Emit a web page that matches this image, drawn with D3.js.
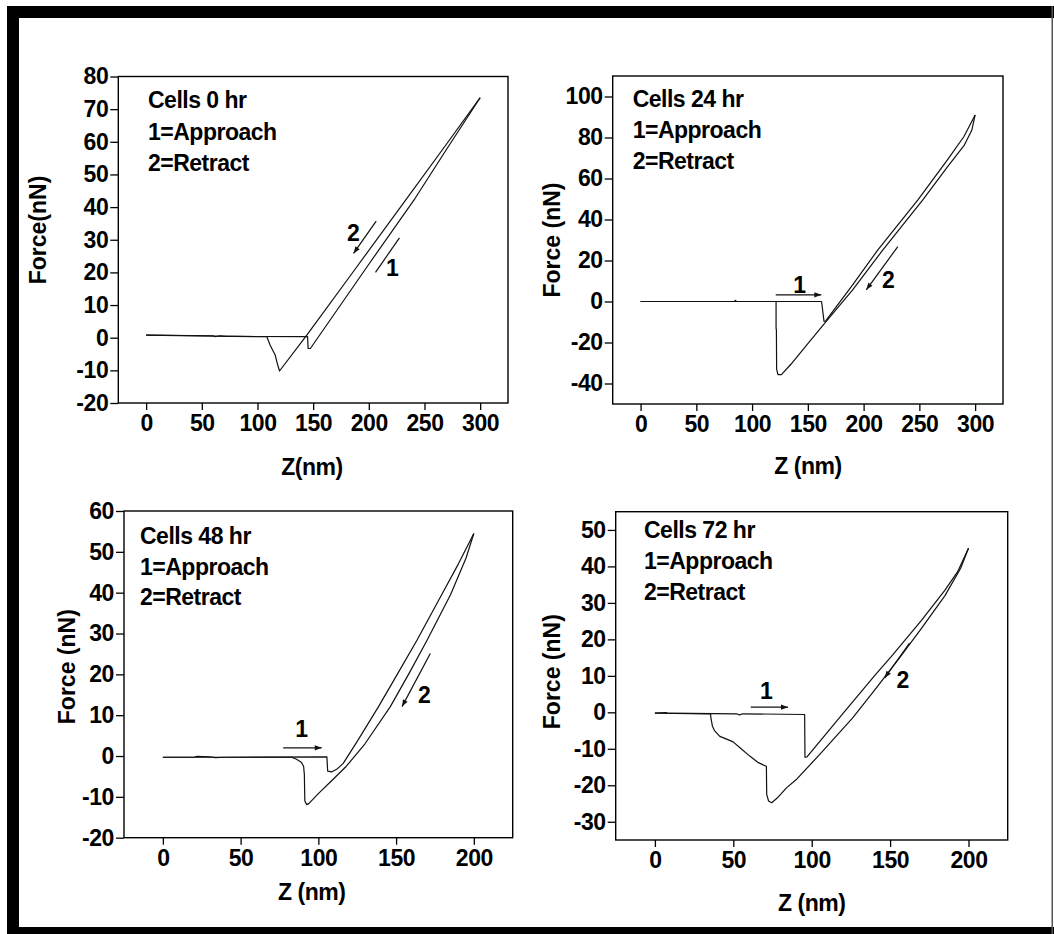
<!DOCTYPE html>
<html><head><meta charset="utf-8">
<script src="https://cdn.jsdelivr.net/npm/d3@7"></script>
<style>
body{margin:0;background:#fff}
svg{display:block}
text{font-family:"Liberation Sans",Arial,sans-serif;font-weight:bold;fill:#000}
</style>
</head><body>
<svg id="c" width="1054" height="934"></svg>
<script>
// ---------------- DATA ----------------
const titles = ["Cells 0 hr", "Cells 24 hr", "Cells 48 hr", "Cells 72 hr"];
const legendLines = ["1=Approach", "2=Retract"];
const yTitles = ["Force(nN)", "Force (nN)", "Force (nN)", "Force (nN)"];
const xTitles = ["Z(nm)", "Z (nm)", "Z (nm)", "Z (nm)"];

const xTicks300 = [0, 50, 100, 150, 200, 250, 300];
const xTicks200 = [0, 50, 100, 150, 200];
const yTicks0 = [-20, -10, 0, 10, 20, 30, 40, 50, 60, 70, 80];
const yTicks24 = [-40, -20, 0, 20, 40, 60, 80, 100];
const yTicks48 = [-20, -10, 0, 10, 20, 30, 40, 50, 60];
const yTicks72 = [-30, -20, -10, 0, 10, 20, 30, 40, 50];

// Z (nm), Force (nN)
const approach0 = [[0,0.8],[60,0.6],[62,0.3],[66,0.6],[72,0.4],[80,0.4],[141,0.3],[145,0.3],[145.5,-3.3],[147.5,-3.3],[200,22.5],[241.6,42.7],[270,57.8],[300,73.5]];
const retract0 = [[300,73.5],[270,59.4],[234.2,42.7],[186,20.2],[144.3,0.8],[119.8,-10.2],[117.4,-7.4],[115.9,-5.3],[111.4,-2.3],[108.4,0.3],[60,0.5],[0,0.8]];

const approach24 = [[0,0],[84,0],[85,0.5],[86,0],[162.3,0],[164.5,-9.7],[166,-9.5],[190,8],[212.8,25.2],[248.7,49.6],[275,69],[290,80.5],[300,91]];
const retract24 = [[300,91],[297,83.5],[290,76],[275,65.5],[253.1,49.6],[217.3,25.2],[190,5.5],[166.5,-9.7],[150,-20.5],[135,-30.5],[126.3,-35.7],[123.2,-35.7],[122,-33],[121.8,-14],[121.5,-13],[121.5,0],[0,0]];

const approach48 = [[0,-0.3],[20,-0.3],[22,-0.1],[30,-0.2],[34,-0.4],[40,-0.3],[105.5,-0.2],[106,-3.7],[108.5,-3.9],[112,-3.2],[116,-1.8],[125,3.6],[138.7,12.1],[150,19.5],[163.5,28.4],[180,40],[190,47],[200,54.5]];
const retract48 = [[200,54.5],[195,48.5],[185,39.5],[170,28.4],[158,20],[146.3,12.1],[130,3],[118,-2.5],[110,-5.5],[100,-9.2],[94,-11.6],[92.5,-11.9],[91.3,-11],[91,-4.5],[90.5,-2.5],[89,-1.5],[86,-0.8],[82.8,-0.3],[0,-0.3]];

const approach72 = [[0,-0.2],[7,-0.1],[8,-0.2],[52,-0.4],[54,-0.7],[56,-0.4],[95.5,-0.6],[95.7,-12.3],[97,-12.2],[120,-0.3],[140,10],[151.8,15.8],[170,25.2],[185,33.5],[193,38.5],[200,45]];
const retract72 = [[200,45],[195,39.5],[185,32],[170,23],[156,14.9],[140,6],[126,-1.6],[105,-11.6],[90,-18.5],[83.9,-20.7],[78,-23.5],[74.5,-24.8],[72.5,-24.3],[71.3,-22.5],[71.1,-14.8],[66,-13.8],[60.5,-12],[55,-10],[49.9,-8.1],[45,-7.2],[41.4,-6.6],[38,-5],[36.7,-3.8],[35.7,-1.5],[35.5,-0.4],[0,-0.2]];

// annotation arrows [from, to, head] and number labels [text, x, F]
const arrows0 = [[[206.6,35.7],[186.3,25.8],true],[[227.5,30.6],[206,20],false]];
const arrows24 = [[[121.2,3.25],[162.1,3.25],true],[[230.7,26.8],[202.4,5.7],true]];
const arrows48 = [[[77.4,2.0],[102.2,2.0],true],[[172,25.1],[153.8,12.1],true]];
const arrows72 = [[[61.1,1.4],[84.9,1.4],true],[[162.4,19],[146.5,9.4],true]];
const numLabels0 = [["2",186.2,29.5],["1",221.2,18.8]];
const numLabels24 = [["1",142.7,4.1],["2",222.3,6.5]];
const numLabels48 = [["1",89.3,4.7],["2",168.2,12.9]];
const numLabels72 = [["1",71.1,3.75],["2",158.2,6.8]];

// ---------------- LAYOUT ----------------
const panels = [
  {L:118.3,T:76.5,R:508,B:403,xd:[-25,325],yd:[-20,80],xt:xTicks300,yt:yTicks0,ap:approach0,re:retract0,ar:arrows0,nl:numLabels0,
   ytx:38,yty:230,xtx:312,xty:475,ann:[148,108,31.5]},
  {L:612.7,T:76,R:1003,B:404,xd:[-25,325],yd:[-50,110],xt:xTicks300,yt:yTicks24,ap:approach24,re:retract24,ar:arrows24,nl:numLabels24,
   ytx:551.7,yty:240,xtx:808,xty:473.5,ann:[632.7,106.7,31]},
  {L:124,T:511,R:512.7,B:837.7,xd:[-25,225],yd:[-20,60],xt:xTicks200,yt:yTicks48,ap:approach48,re:retract48,ar:arrows48,nl:numLabels48,
   ytx:66.7,yty:666.7,xtx:311.7,xty:900,ann:[140,544,30.5]},
  {L:615.7,T:511.7,R:1007.7,B:840,xd:[-25,225],yd:[-35,55],xt:xTicks200,yt:yTicks72,ap:approach72,re:retract72,ar:arrows72,nl:numLabels72,
   ytx:551.7,yty:671.7,xtx:811.7,xty:910.5,ann:[644,538,31]}
];

const svg = d3.select("#c");

// outer frame
svg.append("rect").attr("x",7).attr("y",6).attr("width",1047).attr("height",12).attr("fill","#000");
svg.append("rect").attr("x",7).attr("y",6).attr("width",12).attr("height",928).attr("fill","#000");
svg.append("rect").attr("x",7).attr("y",927).attr("width",1047).attr("height",7).attr("fill","#000");
svg.append("rect").attr("x",1051.5).attr("y",6).attr("width",1.5).attr("height",928).attr("fill","#555");

const FS = 23;
const fmt = d => String(d);

panels.forEach((p, i) => {
  const x = d3.scaleLinear().domain(p.xd).range([p.L, p.R]);
  const y = d3.scaleLinear().domain(p.yd).range([p.B, p.T]);
  const g = svg.append("g");

  // axes
  const ya = g.append("g").attr("transform",`translate(${p.L},0)`)
    .call(d3.axisLeft(y).tickValues(p.yt).tickSize(8).tickSizeOuter(0).tickPadding(2).tickFormat(fmt));
  const xa = g.append("g").attr("transform",`translate(0,${p.B})`)
    .call(d3.axisBottom(x).tickValues(p.xt).tickSize(7).tickSizeOuter(0).tickPadding(5).tickFormat(fmt));
  [ya, xa].forEach(a => {
    a.select(".domain").remove();
    a.selectAll(".tick line").attr("stroke","#000").attr("stroke-width",1.3);
    a.selectAll(".tick text").attr("font-size",FS).attr("font-family","'Liberation Sans',Arial,sans-serif")
      .attr("font-weight","bold").attr("letter-spacing","-0.4px").attr("fill","#000");
  });

  // frame
  g.append("rect").attr("x",p.L).attr("y",p.T).attr("width",p.R-p.L).attr("height",p.B-p.T)
    .attr("fill","none").attr("stroke","#000").attr("stroke-width",1.4);

  // curves
  const line = d3.line().x(d => x(d[0])).y(d => y(d[1]));
  [p.ap, p.re].forEach(ser => {
    g.append("path").datum(ser).attr("d", line).attr("fill","none")
      .attr("stroke","#111").attr("stroke-width",1.2).attr("stroke-linejoin","round");
  });

  // arrows
  p.ar.forEach(([a, b, head]) => {
    const x1 = x(a[0]), y1 = y(a[1]), x2 = x(b[0]), y2 = y(b[1]);
    g.append("line").attr("x1",x1).attr("y1",y1).attr("x2",x2).attr("y2",y2)
      .attr("stroke","#111").attr("stroke-width",1.2);
    if (head) {
      const ang = Math.atan2(y2 - y1, x2 - x1), L = 7, W = 2.6;
      const bx = x2 - L*Math.cos(ang), by = y2 - L*Math.sin(ang);
      const px = -Math.sin(ang)*W, py = Math.cos(ang)*W;
      g.append("path").attr("d",`M${x2},${y2}L${bx+px},${by+py}L${bx-px},${by-py}Z`).attr("fill","#111");
    }
  });
  p.nl.forEach(([t, a, b]) => {
    g.append("text").attr("x", x(a)).attr("y", y(b)).attr("text-anchor","middle")
      .attr("font-size",FS).text(t);
  });

  // annotation block
  const [ax, ay, dl] = p.ann;
  [titles[i]].concat(legendLines).forEach((t, k) => {
    g.append("text").attr("x",ax).attr("y",ay + k*dl).attr("font-size",FS)
      .attr("letter-spacing","-0.5px").text(t);
  });

  // axis titles
  g.append("text").attr("transform",`translate(${p.ytx},${p.yty}) rotate(-90)`)
    .attr("text-anchor","middle").attr("dy","0.36em").attr("font-size",FS).text(yTitles[i]);
  g.append("text").attr("x",p.xtx).attr("y",p.xty).attr("text-anchor","middle")
    .attr("font-size",FS).attr("letter-spacing","-0.5px").text(xTitles[i]);
});
</script>
</body></html>
